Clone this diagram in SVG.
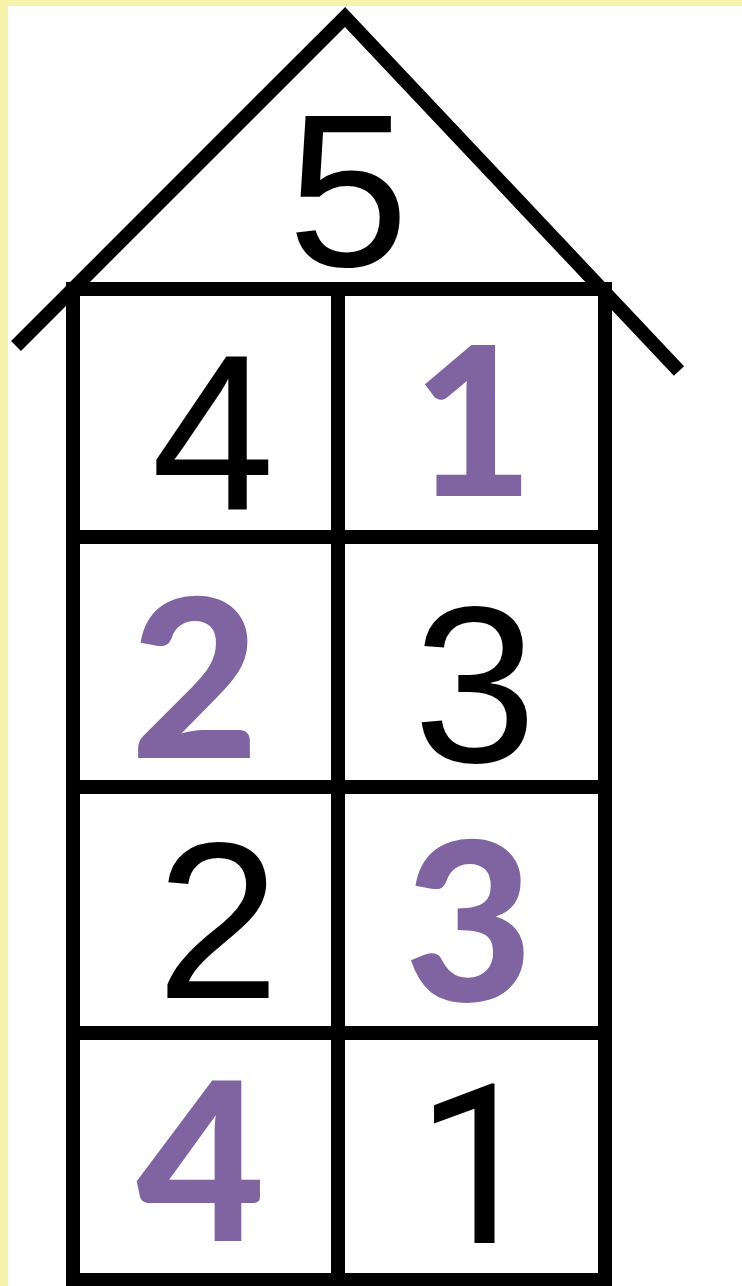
<svg xmlns="http://www.w3.org/2000/svg" width="742" height="1286" viewBox="0 0 742 1286">
<style>
.ln{fill:none;stroke:#000;stroke-width:14;stroke-linejoin:miter;stroke-linecap:butt}
.blk{font-family:"Liberation Sans",Arial,sans-serif;font-size:222px;fill:#000;text-anchor:middle}
.one{font-family:Roboto,"Noto Sans",sans-serif}
.pur{font-family:Lato,sans-serif;font-weight:900;font-size:222px;fill:#8064a2;text-anchor:middle}
</style>
<rect x="0" y="0" width="742" height="1286" fill="#f7f3aa"/>
<rect x="8" y="6" width="734" height="1280" fill="#ffffff"/>
<g id="connectors">
<polyline class="ln" points="16,346 345,17 679,371"/>
<line class="ln" x1="73" y1="289" x2="605" y2="289"/>
<line class="ln" x1="73" y1="537" x2="605" y2="537"/>
<line class="ln" x1="73" y1="787" x2="605" y2="787"/>
<line class="ln" x1="73" y1="1033" x2="605" y2="1033"/>
<line class="ln" x1="73" y1="1280" x2="605" y2="1280"/>
<line class="ln" x1="73" y1="282" x2="73" y2="1286"/>
<line class="ln" x1="338" y1="282" x2="338" y2="1286"/>
<line class="ln" x1="605" y1="282" x2="605" y2="1286"/>
</g>
<g id="roof"><text class="blk" x="348" y="266" style="font-size:218px">5</text></g>
<g id="c11"><text class="blk" x="213" y="510">4</text></g>
<g id="c12"><text class="pur" x="473" y="496" style="font-size:208px">1</text></g>
<g id="c21"><text class="pur" x="195" y="758">2</text></g>
<g id="c22"><text class="blk" x="475" y="762">3</text></g>
<g id="c31"><text class="blk" x="218" y="998">2</text></g>
<g id="c32"><text class="pur" x="469" y="1001">3</text></g>
<g id="c41"><text class="pur" x="201" y="1241">4</text></g>
<g id="c42"><text class="blk one" x="478" y="1243">1</text></g>
</svg>
